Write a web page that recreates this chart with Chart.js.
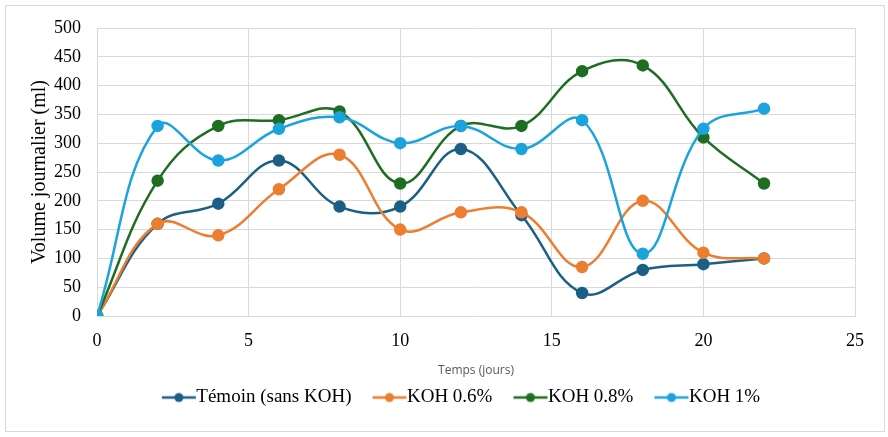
<!DOCTYPE html>
<html>
<head>
<meta charset="utf-8">
<script src="https://cdn.jsdelivr.net/npm/chart.js@4.4.1/dist/chart.umd.min.js"></script>
<style>
  html, body { margin: 0; padding: 0; background: #fff; }
  #wrap { position: relative; width: 888px; height: 437px; }
</style>
</head>
<body>
<div id="wrap"><canvas id="chart" width="888" height="437"></canvas></div>
<script>
// days (x values)
const days = [0, 2, 4, 6, 8, 10, 12, 14, 16, 18, 20, 22];

// daily volume (ml) for each treatment
const temoin = [0, 160, 195, 270, 190, 190, 290, 175, 40, 80, 90, 100];
const koh06 = [0, 160, 140, 220, 280, 150, 180, 180, 85, 200, 110, 100];
const koh08 = [0, 235, 330, 340, 355, 230, 330, 330, 425, 435, 310, 230];
const koh1 = [0, 330, 270, 325, 345, 300, 330, 290, 340, 108, 325, 360];

const seriesNames = ['Témoin (sans KOH)', 'KOH 0.6%', 'KOH 0.8%', 'KOH 1%'];
const seriesValues = [temoin, koh06, koh08, koh1];
const colors = ['#1c5f86', '#ed7d31', '#1e6e21', '#1ba3dd'];

const serif = "'Liberation Serif', 'Times New Roman', serif";

// line-with-dot marker for the legend, pushed to the right of the image
// so it sits close to its text and away from the previous item
function legendMarker(color) {
    const c = document.createElement('canvas');
    c.width = 56;
    c.height = 12;
    const ctx = c.getContext('2d');
    ctx.strokeStyle = color;
    ctx.lineWidth = 2.5;
    ctx.beginPath();
    ctx.moveTo(21, 6);
    ctx.lineTo(55, 6);
    ctx.stroke();
    ctx.fillStyle = color;
    ctx.beginPath();
    ctx.arc(38, 6, 4.5, 0, Math.PI * 2);
    ctx.fill();
    return c;
}

// outer frame around the whole chart, and legend nudged to the right
const frame = {
    id: 'frame',
    afterLayout(chart) {
        chart.legend.left += 28;
        chart.legend.right += 28;
    },
    afterDraw(chart) {
        const ctx = chart.ctx;
        ctx.save();
        ctx.strokeStyle = '#d9d9d9';
        ctx.lineWidth = 1;
        ctx.strokeRect(5.5, 5.5, 879, 426);
        ctx.restore();
    }
};

const datasets = seriesNames.map((name, i) => ({
    label: name,
    data: days.map((d, j) => ({ x: d, y: seriesValues[i][j] })),
    borderColor: colors[i],
    backgroundColor: colors[i],
    borderWidth: 2.5,
    pointRadius: 5,
    pointHoverRadius: 5,
    tension: 0.4,
    showLine: true,
    fill: false,
    order: seriesNames.length - i
}));

new Chart(document.getElementById('chart'), {
    type: 'scatter',
    data: { datasets: datasets },
    options: {
        responsive: false,
        animation: false,
        layout: {
            padding: { left: 0, right: 33, top: 28, bottom: 20 }
        },
        plugins: {
            tooltip: { enabled: false },
            legend: {
                position: 'bottom',
                labels: {
                    usePointStyle: true,
                    pointStyleWidth: 36,
                    color: '#000',
                    padding: 10,
                    font: { family: serif, size: 19 },
                    generateLabels(chart) {
                        return chart.data.datasets.map((ds, i) => ({
                            text: ds.label,
                            pointStyle: legendMarker(ds.borderColor),
                            fillStyle: ds.borderColor,
                            strokeStyle: ds.borderColor,
                            lineWidth: 0,
                            fontColor: '#000',
                            datasetIndex: i,
                            hidden: false
                        }));
                    }
                }
            }
        },
        scales: {
            x: {
                type: 'linear',
                min: 0,
                max: 25,
                afterFit(scale) { scale.height = 62; },
                ticks: {
                    stepSize: 5,
                    padding: 14,
                    color: '#000',
                    font: { family: serif, size: 18 }
                },
                grid: { color: '#d9d9d9', lineWidth: 1, drawTicks: false },
                border: { color: '#d9d9d9' },
                title: {
                    display: true,
                    text: 'Temps (jours)',
                    color: '#595959',
                    padding: 0,
                    font: { family: "'Open Sans', sans-serif", size: 12 }
                }
            },
            y: {
                min: 0,
                max: 500,
                afterFit(scale) { scale.width = 97; },
                ticks: {
                    stepSize: 50,
                    padding: 16,
                    color: '#000',
                    font: { family: serif, size: 18 }
                },
                grid: { color: '#d9d9d9', lineWidth: 1, drawTicks: false },
                border: { color: '#d9d9d9' },
                title: {
                    display: true,
                    text: 'Volume journalier (ml)',
                    color: '#000',
                    padding: { top: 28, bottom: 0 },
                    font: { family: serif, size: 20 }
                }
            }
        }
    },
    plugins: [frame]
});
</script>
</body>
</html>
